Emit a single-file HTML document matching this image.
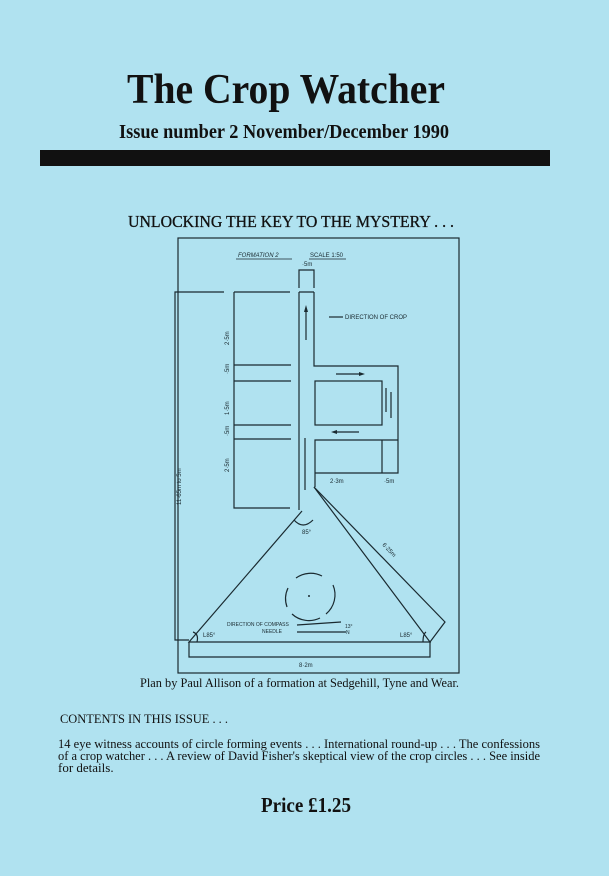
<!DOCTYPE html>
<html><head><meta charset="utf-8"><style>
html,body{margin:0;padding:0;background:#b0e2f0;}
svg{display:block}
</style></head><body>
<svg width="609" height="876" viewBox="0 0 609 876" xmlns="http://www.w3.org/2000/svg" font-family="Liberation Serif, serif">
<rect width="609" height="876" fill="#b0e2f0"/>
<text x="127" y="103" font-size="42" font-weight="bold" textLength="318" lengthAdjust="spacingAndGlyphs" fill="#111">The Crop Watcher</text>
<text x="119" y="138" font-size="20" font-weight="bold" textLength="330" lengthAdjust="spacingAndGlyphs" fill="#111">Issue number 2   November/December 1990</text>
<rect x="40" y="150" width="510" height="16" fill="#111"/>
<text x="128" y="227" font-size="17" textLength="326" lengthAdjust="spacingAndGlyphs" fill="#111" stroke="#111" stroke-width="0.3">UNLOCKING THE KEY TO THE MYSTERY . . .</text>

<g stroke="#1a2a30" stroke-width="1.2" fill="none">
<rect x="178" y="238" width="281" height="435"/>
<path d="M299 288 V270 H314 V288"/>
<path d="M299 292 V510 M314 292 V366 H398 V440 H315 V473 H398 V440 M314 292 H299 M315 440 V487"/>
<rect x="315" y="381" width="67" height="44"/>
<path d="M382 440 V473"/>
<path d="M224 292 H175 V640 H189"/>
<path d="M234 292 H290 M234 292 V508 H290 M234 365 H291 M234 381 H291 M234 425 H291 M234 439 H291"/>
<path d="M302 511 L189 642 H430 L314 487"/>
<path d="M314 487 L445 622 L430 642"/>
<path d="M189 642 V657 H430 V642"/>
<path d="M294 520 Q303 530 313 520"/>
<path d="M197 642 Q199 634 193 632 M423 642 Q423 634 426 632"/>
<path d="M296 578 A25 25 0 0 1 322 576"/>
<path d="M333 585 A25 25 0 0 1 326 614"/>
<path d="M320 618 A25 25 0 0 1 292 614"/>
<path d="M287 607 A25 25 0 0 1 288 588"/>
<path d="M306 340 V310 M336 374 H362 M359 432 H334 M386 388 V412 M391 392 V418 M305 438 V470 M305 490 V470"/>
<path d="M297 625 L341 622 M297 632 H346"/>
<path d="M329 317 H343"/>
</g>
<g fill="#1a2a30">
<circle cx="309" cy="596" r="1"/>
<polygon points="306,305 304,312 308,312"/>
<polygon points="365,374 359,372 359,376"/>
<polygon points="331,432 337,430 337,434"/>
</g>
<g font-family="Liberation Sans, sans-serif" fill="#1a2a30" font-size="6">
<text x="238" y="257" font-style="italic">FORMATION  2</text>
<path d="M236 259 H292 M309 259 H346" stroke="#1a2a30" stroke-width="0.8"/>
<text x="310" y="257">SCALE 1:50</text>
<text x="302" y="266">·5m</text>
<text x="345" y="319">DIRECTION OF CROP</text>
<text x="330" y="483">2·3m</text>
<text x="384" y="483">·5m</text>
<text x="302" y="534">85°</text>
<text x="203" y="637">L85°</text>
<text x="400" y="637">L85°</text>
<text x="299" y="667">8·2m</text>
<text x="227" y="626" font-size="5">DIRECTION OF COMPASS</text>
<text x="262" y="633" font-size="5">NEEDLE</text>
<text x="345" y="628" font-size="5">13°</text>
<text x="346" y="634" font-size="5">N</text>
<text transform="translate(382,545) rotate(47)">6·25m</text>
<text transform="translate(229,345) rotate(-90)">2·5m</text>
<text transform="translate(229,374) rotate(-90)">·5m</text>
<text transform="translate(229,415) rotate(-90)">1·5m</text>
<text transform="translate(229,436) rotate(-90)">·5m</text>
<text transform="translate(229,472) rotate(-90)">2·5m</text>
<text transform="translate(181,505) rotate(-90)">11·65m  to  5m</text>
</g>

<g font-size="13" fill="#111">
<text x="140" y="687" textLength="319" lengthAdjust="spacingAndGlyphs">Plan by Paul Allison of a formation at Sedgehill, Tyne and Wear.</text>
<text x="60" y="723" textLength="168" lengthAdjust="spacingAndGlyphs">CONTENTS IN THIS  ISSUE . . .</text>
<text x="58" y="748" textLength="482" lengthAdjust="spacingAndGlyphs">14 eye witness accounts of circle forming events . . .  International round-up . . .  The confessions</text>
<text x="58" y="760" textLength="482" lengthAdjust="spacingAndGlyphs">of a crop watcher . . .  A review of David Fisher's skeptical view of the crop circles . . .  See inside</text>
<text x="58" y="772">for details.</text>
</g>
<text x="261" y="812" font-size="21" font-weight="bold" textLength="90" lengthAdjust="spacingAndGlyphs" fill="#111">Price  £1.25</text>
</svg>
</body></html>
